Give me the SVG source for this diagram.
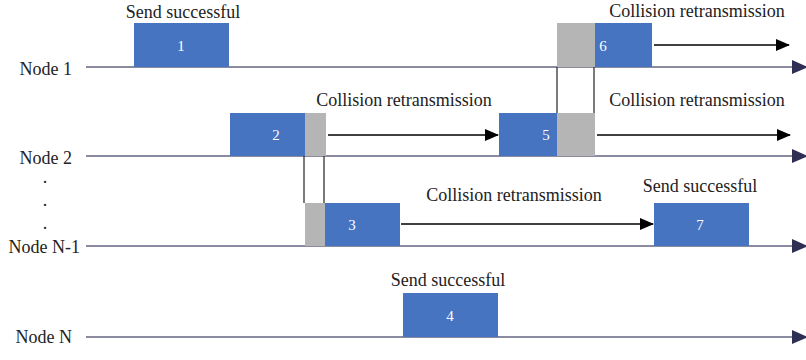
<svg xmlns="http://www.w3.org/2000/svg" width="806" height="360" viewBox="0 0 806 360">
<defs>
<marker id="tl" markerWidth="16" markerHeight="14" refX="14" refY="7" orient="auto" markerUnits="userSpaceOnUse"><path d="M0,0 L16,7 L0,14 Z" fill="#2f2f55"/></marker>
<marker id="ar" markerWidth="14" markerHeight="12" refX="13" refY="6" orient="auto" markerUnits="userSpaceOnUse"><path d="M0,0 L14,6 L0,12 Z" fill="#000"/></marker>
</defs>
<style>
text{font-family:"Liberation Serif","Times New Roman",serif;fill:#222;}
.lbl{font-size:18px;}
.num{font-size:15px;fill:#fff;}
.b{fill:#4674c0;}
.g{fill:#b5b5b5;}
.tl{stroke:#8a8aa0;stroke-width:2;fill:none;}
.ar{stroke:#000;stroke-width:1.3;fill:none;}
.v{stroke:#333;stroke-width:1.3;fill:none;}
</style>
<rect width="806" height="360" fill="#fff"/>
<g id="labels">
<text class="lbl" x="72" y="75" text-anchor="end">Node 1</text>
<text class="lbl" x="72" y="164" text-anchor="end">Node 2</text>
<text class="lbl" x="45" y="183" text-anchor="middle">.</text>
<text class="lbl" x="45" y="206" text-anchor="middle">.</text>
<text class="lbl" x="45" y="229" text-anchor="middle">.</text>
<text class="lbl" x="80" y="253" text-anchor="end">Node N-1</text>
<text class="lbl" x="72" y="343" text-anchor="end">Node N</text>
</g>
<g id="connectors">
<line class="tl" x1="86" y1="67" x2="806" y2="67" marker-end="url(#tl)"/>
<line class="tl" x1="86" y1="156" x2="806" y2="156" marker-end="url(#tl)"/>
<line class="tl" x1="86" y1="246" x2="806" y2="246" marker-end="url(#tl)"/>
<line class="tl" x1="86" y1="337" x2="806" y2="337" marker-end="url(#tl)"/>
<line class="ar" x1="654" y1="45" x2="789" y2="45" marker-end="url(#ar)"/>
<line class="ar" x1="328" y1="135" x2="498" y2="135" marker-end="url(#ar)"/>
<line class="ar" x1="597" y1="135" x2="790" y2="135" marker-end="url(#ar)"/>
<line class="ar" x1="401" y1="224" x2="653" y2="224" marker-end="url(#ar)"/>
<line class="v" x1="557" y1="67" x2="557" y2="113"/>
<line class="v" x1="594" y1="67" x2="594" y2="113"/>
<line class="v" x1="304" y1="156" x2="304" y2="203"/>
<line class="v" x1="324" y1="156" x2="324" y2="203"/>
</g>
<g id="n1">
<rect class="b" x="134" y="23" width="95" height="44"/>
<text class="num" x="181" y="51" text-anchor="middle">1</text>
<text class="lbl" x="183" y="18" text-anchor="middle">Send successful</text>
</g>
<g id="n2">
<rect class="b" x="230" y="113" width="75" height="43"/>
<rect class="g" x="305" y="113" width="21" height="43"/>
<text class="num" x="276" y="140" text-anchor="middle">2</text>
<text class="lbl" x="404" y="106" text-anchor="middle">Collision retransmission</text>
</g>
<g id="n3">
<rect class="g" x="305" y="203" width="20" height="43"/>
<rect class="b" x="325" y="203" width="75" height="43"/>
<text class="num" x="352" y="230" text-anchor="middle">3</text>
<text class="lbl" x="514" y="201" text-anchor="middle">Collision retransmission</text>
</g>
<g id="n4">
<rect class="b" x="403" y="293" width="95" height="44"/>
<text class="num" x="450" y="321" text-anchor="middle">4</text>
<text class="lbl" x="448" y="286" text-anchor="middle">Send successful</text>
</g>
<g id="n5">
<rect class="b" x="499" y="113" width="58" height="43"/>
<rect class="g" x="557" y="113" width="38" height="43"/>
<text class="num" x="546" y="140" text-anchor="middle">5</text>
<text class="lbl" x="697" y="106" text-anchor="middle">Collision retransmission</text>
</g>
<g id="n6">
<rect class="g" x="557" y="23" width="38" height="44"/>
<rect class="b" x="595" y="23" width="57" height="44"/>
<text class="num" x="603" y="51" text-anchor="middle">6</text>
<text class="lbl" x="697" y="17" text-anchor="middle">Collision retransmission</text>
</g>
<g id="n7">
<rect class="b" x="654" y="203" width="95" height="43"/>
<text class="num" x="700" y="230" text-anchor="middle">7</text>
<text class="lbl" x="700" y="192" text-anchor="middle">Send successful</text>
</g>
</svg>
